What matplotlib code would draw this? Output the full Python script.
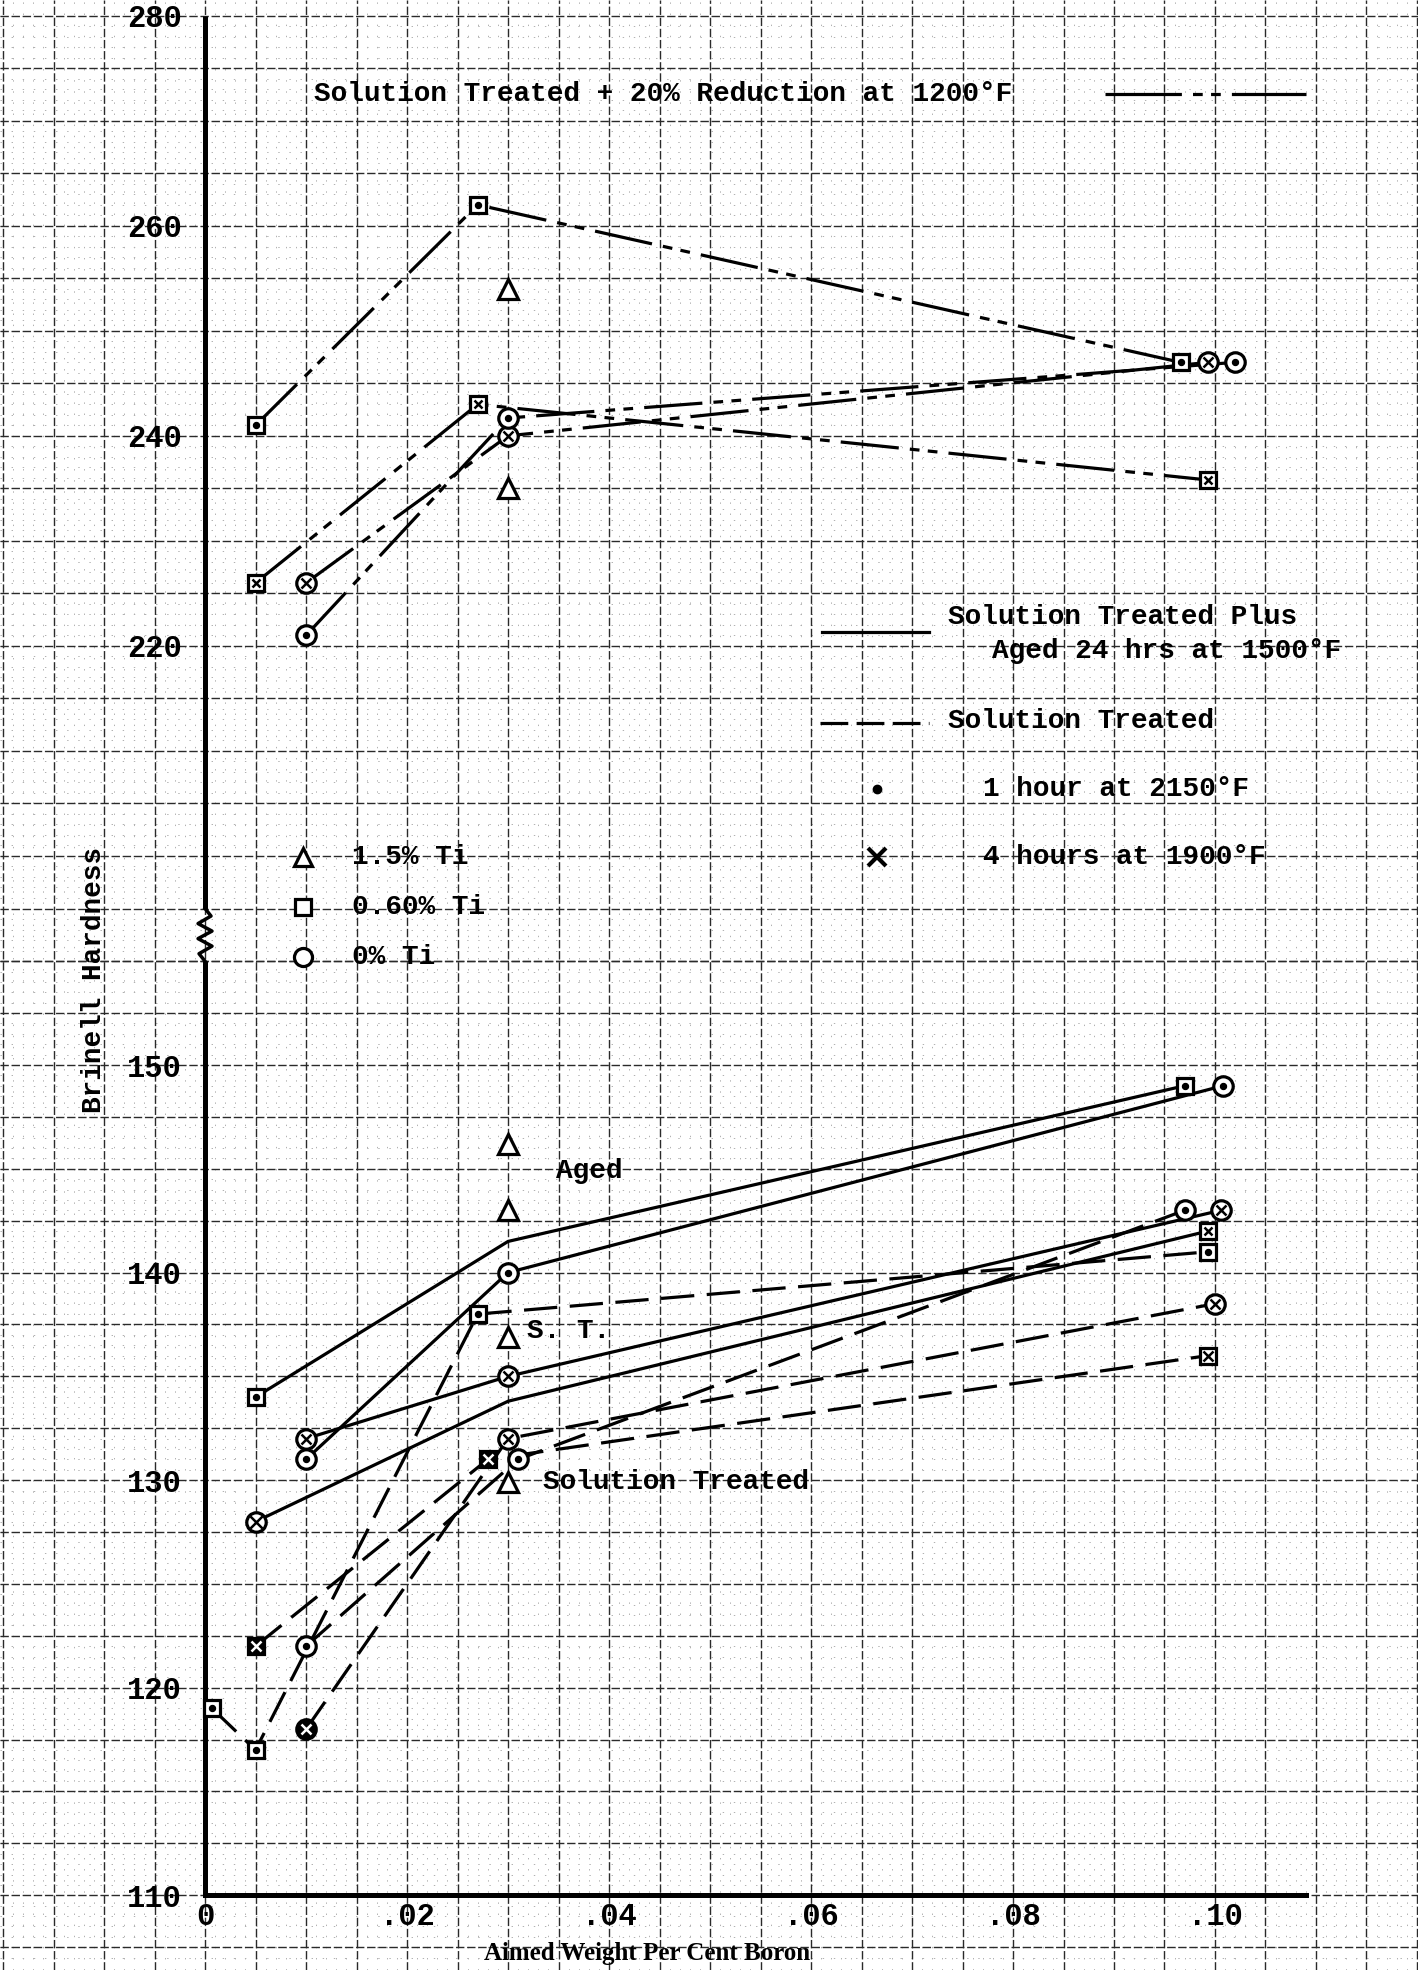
import numpy as np
import matplotlib
matplotlib.use('Agg')
import matplotlib.pyplot as plt

plt.rcParams['font.family'] = ['Liberation Mono', 'DejaVu Sans Mono']
plt.rcParams['font.weight'] = 'bold'
plt.rcParams['lines.scale_dashes'] = False

# aimed wt % boron vs Brinell hardness
# upper block: solution treated + 20% reduction at 1200F
red_sq_x = [0.005, 0.027, 0.0966]
red_sq_y = [241, 262, 247]
red_sqx_x = [0.005, 0.027, 0.0993]
red_sqx_y = [226, 243, 235.8]
red_cx_x = [0.01, 0.03, 0.0993]
red_cx_y = [226, 240, 247]
red_cd_x = [0.01, 0.03, 0.102]
red_cd_y = [221, 241.7, 247]
red_tri_x = [0.03, 0.03]
red_tri_y = [254, 235]

# lower block: solution treated plus aged 24 hrs at 1500F (solid)
aged_sq_x = [0.005, 0.03, 0.097]
aged_sq_y = [134, 141.5, 149]
aged_sqx_x = [0.005, 0.03, 0.0993]
aged_sqx_y = [128, 133.8, 142]
aged_cd_x = [0.01, 0.03, 0.1008]
aged_cd_y = [131, 140, 149]
aged_cx_x = [0.01, 0.03, 0.1006]
aged_cx_y = [132, 135, 143]

# solution treated only (dashed)
st_sq_x = [0.0007, 0.005, 0.027, 0.0993]
st_sq_y = [119, 117, 138, 141]
st_sqx_x = [0.005, 0.028, 0.0993]
st_sqx_y = [122, 131, 136]
st_cd_x = [0.01, 0.031, 0.097]
st_cd_y = [122, 131, 143]
st_cx_x = [0.01, 0.03, 0.1]
st_cx_y = [118, 132, 138.5]

# 1.5% Ti, no lines
tri_x = [0.03, 0.03, 0.03, 0.03]
tri_y = [146.2, 143, 136.9, 129.9]

ytick_vals = [110, 120, 130, 140, 150, 220, 240, 260, 280]
xtick_vals = [0, 0.02, 0.04, 0.06, 0.08, 0.10]
xtick_labels = ['0', '.02', '.04', '.06', '.08', '.10']

# broken axis: 110-155 on the lower half, 190-280 (half scale) above
LO, HI, K, EPS = 155.0, 190.0, 0.506, 0.01

def fwd(v):
    v = np.asarray(v, dtype=float)
    return np.where(v <= LO, v - 110,
                    np.where(v >= HI, 45 + EPS + (v - HI) * K,
                             45 + (v - LO) / (HI - LO) * EPS))

def inv(p):
    p = np.asarray(p, dtype=float)
    return np.where(p <= 45, p + 110,
                    np.where(p >= 45 + EPS, HI + (p - 45 - EPS) / K,
                             LO + (p - 45) / EPS * (HI - LO)))

fig = plt.figure(figsize=(14.18, 19.70), dpi=100)
ax = fig.add_axes([0, 0, 1, 1])
ax.set_yscale('function', functions=(fwd, inv))
ax.set_xlim(-0.0203, 0.1201)
ax.set_ylim(106.4, 281.5)

# graph paper
gkw = dict(color='#2a2a2a', lw=1.0, ls=(0, (6, 2)), zorder=0)
mkw = dict(color='#b0b0b0', lw=0.7, ls=(0, (1, 7)), zorder=0)
xmin, xmax = ax.get_xlim()
ymin, ymax = ax.get_ylim()
ax.vlines(np.arange(-0.02, 0.1201, 0.001), ymin, ymax, **mkw)
ax.hlines(np.r_[np.arange(107, 155.1, 0.5), np.arange(190, 281, 1)], xmin, xmax, **mkw)
ax.vlines(np.arange(-0.02, 0.1201, 0.005), ymin, ymax, **gkw)
ax.hlines(np.r_[np.arange(107.5, 155.1, 2.5), np.arange(190, 281, 5)], xmin, xmax, **gkw)

# axes lines
for s in ['top', 'right', 'left']:
    ax.spines[s].set_visible(False)
ax.spines['left'].set_position(('data', 0))
ax.spines['bottom'].set_position(('data', 110))
ax.spines['bottom'].set_bounds(0, 0.109)
ax.spines['bottom'].set_linewidth(3.6)
ax.plot([0, 0], [110, LO], color='black', lw=3.6, solid_capstyle='butt', zorder=4)
ax.plot([0, 0], [195, 280], color='black', lw=3.6, solid_capstyle='butt', zorder=4)

ax.set_yticks(ytick_vals)
ax.set_yticklabels([str(v) for v in ytick_vals])
ax.set_xticks(xtick_vals)
ax.set_xticklabels(xtick_labels)
ax.minorticks_off()
ax.tick_params(axis='y', length=0, pad=17, labelsize=22)
ax.tick_params(axis='x', length=0, pad=5, labelsize=22)

# zigzag axis break
p0 = ax.transAxes.inverted().transform(ax.transData.transform([(0, LO), (0, 195)]))
zy = np.linspace(p0[0][1], p0[1][1], 8)
zx = p0[0][0] + np.array([0, -6, 7, -7, 7, -7, 6, 0]) / 1418
ax.plot(zx, zy, color='black', lw=2.5, transform=ax.transAxes, zorder=4)

solid = '-'
dashed = (0, (24, 9))
reduced = (0, (42, 8, 7, 6, 7, 8))


def series(xs, ys, ls, shape, inner, show=None, filled=(), ms=14):
    ax.plot(xs, ys, color='black', lw=2.3, ls=ls, zorder=3)
    idx = range(len(xs)) if show is None else show
    for i in idx:
        fc = 'black' if i in filled else 'white'
        ax.plot(xs[i], ys[i], marker=shape, ms=ms, mfc=fc, mec='black', mew=2.3,
                ls='none', zorder=5)
        if inner:
            ic = 'white' if i in filled else 'black'
            ax.plot(xs[i], ys[i], marker=inner, ms=3.5 if inner == 'o' else ms * 0.55,
                    color=ic, mew=1.8, ls='none', zorder=6)


series(red_sq_x, red_sq_y, reduced, 's', 'o', ms=11)
series(red_sqx_x, red_sqx_y, reduced, 's', 'x', ms=11)
series(red_cx_x, red_cx_y, reduced, 'o', 'x')
series(red_cd_x, red_cd_y, reduced, 'o', 'o')
ax.plot(red_tri_x, red_tri_y, marker='^', ms=14, mfc='white', mec='black', mew=2.3,
        ls='none', zorder=5)

series(aged_sq_x, aged_sq_y, solid, 's', 'o', show=[0, 2], ms=11)
series(aged_sqx_x, aged_sqx_y, solid, 's', 'x', show=[2], ms=11)
ax.plot(aged_sqx_x[0], aged_sqx_y[0], marker='o', ms=14, mfc='white', mec='black',
        mew=2.3, zorder=5)
ax.plot(aged_sqx_x[0], aged_sqx_y[0], marker='x', ms=8, color='black', mew=1.8, zorder=6)
series(aged_cd_x, aged_cd_y, solid, 'o', 'o')
series(aged_cx_x, aged_cx_y, solid, 'o', 'x')

series(st_sq_x, st_sq_y, dashed, 's', 'o', ms=11)
series(st_sqx_x, st_sqx_y, dashed, 's', 'x', filled=(0, 1), ms=12)
series(st_cd_x, st_cd_y, dashed, 'o', 'o')
series(st_cx_x, st_cx_y, dashed, 'o', 'x', filled=(0,))
ax.plot(tri_x, tri_y, marker='^', ms=14, mfc='white', mec='black', mew=2.3,
        ls='none', zorder=5)

# labels on the curves
ax.text(0.0348, 144.9, 'Aged', fontsize=20, ha='left', va='center')
ax.text(0.0319, 137.2, 'S. T.', fontsize=20, ha='left', va='center')
ax.text(0.0335, 129.9, 'Solution Treated', fontsize=20, ha='left', va='center')

# keys (positions in axes fraction)
tk = dict(fontsize=20, ha='left', va='center', transform=ax.transAxes)
ax.text(0.2214, 0.9523, 'Solution Treated + 20% Reduction at 1200°F', **tk)
ax.plot([0.779, 0.921], [0.9523, 0.9523], color='black', lw=2.3,
        ls=(0, (55, 8, 7, 6, 7, 8)), transform=ax.transAxes)
ax.plot([0.580, 0.655], [0.6792, 0.6792], color='black', lw=2.3, transform=ax.transAxes)
ax.text(0.6685, 0.6868, 'Solution Treated Plus', **tk)
ax.text(0.6996, 0.6695, 'Aged 24 hrs at 1500°F', **tk)
ax.plot([0.578, 0.655], [0.633, 0.633], color='black', lw=2.3, ls=(0, (20, 6)),
        transform=ax.transAxes)
ax.text(0.6685, 0.634, 'Solution Treated', **tk)
ax.plot(0.6185, 0.5995, marker='o', ms=6, color='black', transform=ax.transAxes)
ax.text(0.6932, 0.5995, '1 hour at 2150°F', **tk)
ax.plot(0.6185, 0.565, marker='x', ms=13, mew=3, color='black', transform=ax.transAxes)
ax.text(0.6932, 0.565, '4 hours at 1900°F', **tk)

for yy, m, lab in [(0.565, '^', '1.5% Ti'), (0.5396, 's', '0.60% Ti'), (0.5142, 'o', '0% Ti')]:
    ax.plot(0.2137, yy, marker=m, ms=13 if m != 's' else 11, mfc='white', mec='black',
            mew=2.3, transform=ax.transAxes)
    ax.text(0.2482, yy, lab, **tk)

ax.text(0.0663, 0.5025, 'Brinell Hardness', fontsize=20, rotation=90,
        ha='center', va='center', transform=ax.transAxes)
ax.text(0.456, 0.0086, 'Aimed Weight Per Cent Boron', fontsize=18,
        family='Liberation Serif', ha='center', va='center', transform=ax.transAxes)

fig.savefig('out.png', dpi=100)
